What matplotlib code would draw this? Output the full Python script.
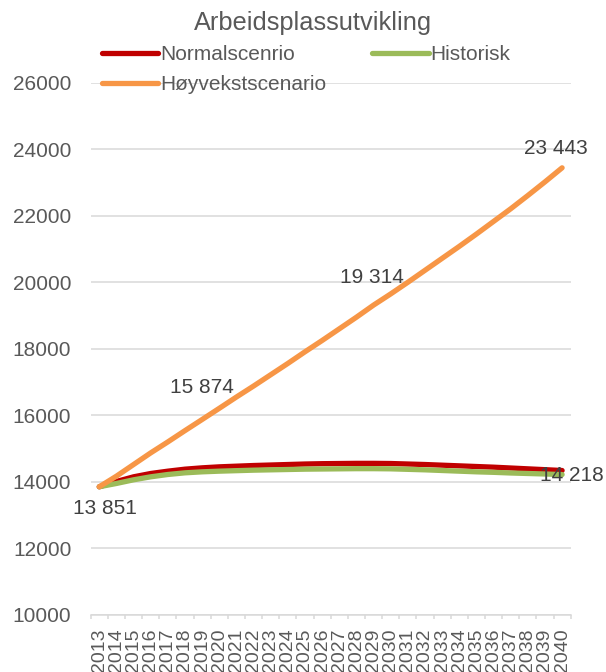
import matplotlib
matplotlib.use("Agg")
from matplotlib import pyplot as plt  # For graphing

plt.rcParams['font.family'] = ['Liberation Sans', 'DejaVu Sans']

# Chart data
years = list(range(2013, 2041))
normal = [13851, 14010, 14150, 14250, 14320, 14380, 14420, 14450, 14470, 14490,
          14505, 14520, 14535, 14545, 14550, 14555, 14555, 14550, 14535, 14520,
          14500, 14480, 14460, 14440, 14415, 14390, 14365, 14340]
historisk = [13851, 13950, 14060, 14150, 14220, 14270, 14300, 14320, 14335, 14350,
             14360, 14370, 14380, 14385, 14390, 14395, 14395, 14390, 14375, 14360,
             14340, 14320, 14300, 14285, 14265, 14250, 14235, 14218]
hoyvekst = [13851, 14170, 14520, 14870, 15200, 15540, 15874, 16210, 16550, 16880,
            17220, 17560, 17910, 18250, 18600, 18950, 19314, 19650, 20000, 20360,
            20720, 21080, 21450, 21830, 22210, 22610, 23020, 23443]
y_ticks = list(range(10000, 26001, 2000))

# labelled points: (series, year, offset in px)
labels = [(hoyvekst, 2013, (6, -22)),
          (hoyvekst, 2019, (0, 32)),
          (hoyvekst, 2029, (-2, 28)),
          (hoyvekst, 2040, (-6, 19)),
          (historisk, 2040, (10, -1))]

grey_txt = '#595959'
grid_col = '#D9D9D9'

fig = plt.figure(figsize=(6.06, 6.72), dpi=100)
ax = fig.add_axes([0.1497, 0.0851, 0.792, 0.7917])

ax.plot(years, normal, color='#C00000', lw=3.8, solid_capstyle='round', label='Normalscenrio', zorder=3)
ax.plot(years, historisk, color='#9BBB59', lw=3.8, solid_capstyle='round', label='Historisk', zorder=4)
ax.plot(years, hoyvekst, color='#F79646', lw=3.8, solid_capstyle='round', label='Høyvekstscenario', zorder=5)

for series, yr, (dx, dy) in labels:
    val = series[years.index(yr)]
    ax.annotate(f"{val:,}".replace(',', ' '), (yr, val), xytext=(dx * 0.72, dy * 0.72),
                textcoords='offset points', ha='center', va='center',
                fontsize=15, color='#404040', zorder=6)

# axes
ax.set_xlim(years[0] - 0.5, years[-1] + 0.5)
ax.set_ylim(y_ticks[0], y_ticks[-1])
ax.set_yticks(y_ticks)
ax.set_yticklabels([str(t) for t in y_ticks])
ax.tick_params(axis='y', length=0, pad=14, labelsize=15, labelcolor=grey_txt)
ax.grid(axis='y', color=grid_col, lw=1.1)
ax.set_axisbelow(True)

# Excel style: ticks between categories, labels in the middle
ax.set_xticks([y - 0.5 for y in years] + [years[-1] + 0.5])
ax.set_xticklabels([])
ax.set_xticks(years, minor=True)
ax.set_xticklabels([str(y) for y in years], minor=True, rotation=90, fontsize=14, color=grey_txt)
ax.tick_params(axis='x', which='major', length=3, width=1.1, color=grid_col, direction='out')
ax.tick_params(axis='x', which='minor', length=0, pad=10)

for side in ['left', 'right', 'top']:
    ax.spines[side].set_visible(False)
ax.spines['bottom'].set_color(grid_col)
ax.spines['bottom'].set_linewidth(1.1)

fig.text(313 / 606, 1 - 23 / 672, 'Arbeidsplassutvikling', ha='center', va='center',
         fontsize=18.3, color=grey_txt)

h, l = ax.get_legend_handles_labels()
order = [0, 2, 1]  # gives row 1: Normal, Historisk ; row 2: Høyvekst
fig.legend([h[i] for i in order], [l[i] for i in order], ncol=2, loc='upper left',
           bbox_to_anchor=(102 / 606, 1 - 45 / 672), frameon=False, borderpad=0,
           borderaxespad=0, handlelength=2.7, handletextpad=0.1, columnspacing=2.2,
           labelspacing=0.55, fontsize=15, labelcolor=grey_txt)

fig.savefig('out.png', dpi=100)
